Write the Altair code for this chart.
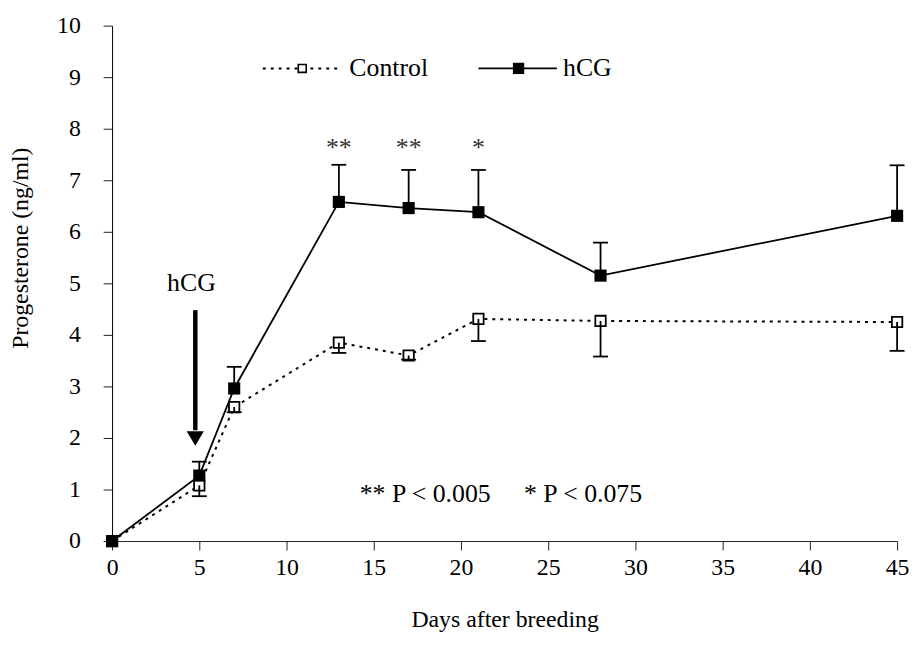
import altair as alt
import pandas as pd

# ---- data ----
days = [0, 5, 7, 13, 17, 21, 28, 45]
hcg = [0.0, 1.27, 2.96, 6.58, 6.46, 6.38, 5.15, 6.31]
hcg_upper = [0.0, 1.54, 3.38, 7.30, 7.20, 7.20, 5.79, 7.29]
control = [0.0, 1.08, 2.60, 3.85, 3.60, 4.31, 4.27, 4.25]
control_lower = [0.0, 0.87, 2.50, 3.65, 3.52, 3.88, 3.58, 3.69]

x_ticks = [0, 5, 10, 15, 20, 25, 30, 35, 40, 45]
y_ticks = [0, 1, 2, 3, 4, 5, 6, 7, 8, 9, 10]

star_days = [13, 17, 21]
star_texts = ["**", "**", "*"]
star_level = [7.62, 7.62, 7.62]

note_text = ["** P < 0.005", "* P < 0.075"]
note_day = [17.95, 27.0]
note_level = [0.92, 0.92]

arrow_day = [4.77]
arrow_top = [4.48]
arrow_bottom = [2.15]
arrow_head = [1.99]
arrow_label = ["hCG"]
arrow_label_day = [4.55]
arrow_label_level = [4.85]

legend_names = ["Control", "hCG"]
legend_line_start = [8.64, 21.0]
legend_line_end = [13.15, 25.5]
legend_marker_day = [10.9, 23.3]
legend_text_day = [13.6, 25.85]
legend_level = [9.17, 9.17]

FONT = "Liberation Serif"

df = pd.DataFrame({
    "day": days, "hcg": hcg, "hcg_up": hcg_upper,
    "control": control, "control_lo": control_lower,
})
df_err = df[df["day"] > 0]

x_scale = alt.Scale(domain=[0, 45], nice=False, zero=False)
y_scale = alt.Scale(domain=[0, 10], nice=False)

x_axis = alt.Axis(values=x_ticks, title="Days after breeding", grid=False,
                  tickSize=9, labelPadding=6, titleY=79, titleBaseline="middle",
                  domainColor="#222", tickColor="#222", labelFlush=False)
y_axis = alt.Axis(values=y_ticks, title="Progesterone (ng/ml)", grid=False,
                  tickSize=9, labelPadding=23, titleX=-92, titleY=224,
                  titleBaseline="middle", titleAngle=270,
                  domainColor="black", tickColor="#222")


def X(field):
    return alt.X(f"{field}:Q", scale=x_scale, axis=x_axis)


def Y(field):
    return alt.Y(f"{field}:Q", scale=y_scale, axis=y_axis)


base = alt.Chart(df)
err = alt.Chart(df_err)

hcg_line = base.mark_line(color="black", strokeWidth=1.8).encode(x=X("day"), y=Y("hcg"))
ctl_line = base.mark_line(color="black", strokeWidth=2, strokeDash=[3, 5]).encode(
    x=X("day"), y=Y("control"))

hcg_pts = base.mark_square(size=150, color="black", filled=True, opacity=1).encode(
    x=X("day"), y=Y("hcg"))
ctl_pts = base.mark_square(size=110, filled=True, fill="white", stroke="black",
                           strokeWidth=1.8, opacity=1).encode(x=X("day"), y=Y("control"))

hcg_bar = err.mark_rule(color="black", strokeWidth=1.8).encode(
    x=X("day"), y=Y("hcg"), y2="hcg_up")
hcg_cap = err.mark_tick(color="black", orient="horizontal", size=15, thickness=1.8,
                        opacity=1).encode(x=X("day"), y=Y("hcg_up"))
ctl_bar = err.mark_rule(color="black", strokeWidth=1.8).encode(
    x=X("day"), y=Y("control"), y2="control_lo")
ctl_cap = err.mark_tick(color="black", orient="horizontal", size=15, thickness=1.8,
                        opacity=1).encode(x=X("day"), y=Y("control_lo"))

stars = alt.Chart(pd.DataFrame({"d": star_days, "t": star_texts, "v": star_level})).mark_text(
    font=FONT, fontSize=26, color="#333", baseline="middle").encode(
    x=X("d"), y=Y("v"), text="t:N")

note = alt.Chart(pd.DataFrame({"d": note_day, "t": note_text, "v": note_level})).mark_text(
    font=FONT, fontSize=26, color="black", baseline="middle").encode(
    x=X("d"), y=Y("v"), text="t:N")

arrow_df = pd.DataFrame({"d": arrow_day, "top": arrow_top, "bot": arrow_bottom,
                         "head": arrow_head})
arrow_shaft = alt.Chart(arrow_df).mark_rule(color="black", strokeWidth=4.5).encode(
    x=X("d"), y=Y("top"), y2="bot")
arrow_tip = alt.Chart(arrow_df).mark_point(shape="M-1,-0.85L1,-0.85L0,0.85Z", size=300,
                                           filled=True, color="black", opacity=1).encode(
    x=X("d"), y=Y("head"))
arrow_txt = alt.Chart(pd.DataFrame({"d": arrow_label_day, "v": arrow_label_level,
                                    "t": arrow_label})).mark_text(
    font=FONT, fontSize=26, color="black", baseline="alphabetic").encode(
    x=X("d"), y=Y("v"), text="t:N")

leg_df = pd.DataFrame({"name": legend_names, "x0": legend_line_start, "x1": legend_line_end,
                       "xm": legend_marker_day, "xt": legend_text_day, "v": legend_level})
leg_ctl = alt.Chart(leg_df.iloc[[0]])
leg_hcg = alt.Chart(leg_df.iloc[[1]])
leg_ctl_line = leg_ctl.mark_rule(color="black", strokeWidth=2, strokeDash=[3, 5]).encode(
    x=X("x0"), x2="x1", y=Y("v"))
leg_ctl_pt = leg_ctl.mark_square(size=64, filled=True, fill="white", stroke="black",
                                 strokeWidth=1.6, opacity=1).encode(x=X("xm"), y=Y("v"))
leg_hcg_line = leg_hcg.mark_rule(color="black", strokeWidth=1.8).encode(
    x=X("x0"), x2="x1", y=Y("v"))
leg_hcg_pt = leg_hcg.mark_square(size=130, color="black", filled=True, opacity=1).encode(
    x=X("xm"), y=Y("v"))
leg_text = alt.Chart(leg_df).mark_text(font=FONT, fontSize=26, color="black", align="left",
                                       baseline="middle").encode(
    x=X("xt"), y=Y("v"), text="name:N")

chart = alt.layer(
    ctl_line, hcg_line, ctl_pts, hcg_pts, hcg_bar, hcg_cap, ctl_bar, ctl_cap,
    stars, note, arrow_shaft, arrow_tip, arrow_txt,
    leg_ctl_line, leg_ctl_pt, leg_hcg_line, leg_hcg_pt, leg_text,
).properties(
    width=792, height=520,
    autosize=alt.AutoSizeParams(type="none"),
    padding={"left": 105, "top": 15, "right": 12, "bottom": 92},
    background="white",
).configure_view(stroke=None).configure_axis(
    labelFont=FONT, titleFont=FONT, labelFontSize=24, titleFontSize=24,
    titleFontWeight="normal", labelColor="black", titleColor="black",
    domainWidth=1, tickWidth=1,
)

chart.save("out.html", embed_options={"renderer": "svg", "actions": False})
